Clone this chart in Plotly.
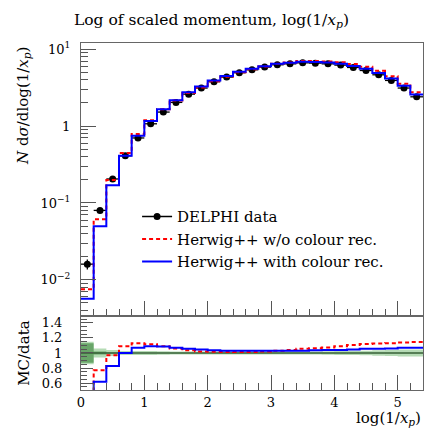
import plotly.graph_objects as go

# ---------------- data ----------------
bin_edges = [0.0, 0.2, 0.4, 0.6, 0.8, 1.0, 1.2, 1.4, 1.6, 1.8, 2.0, 2.2, 2.4, 2.6,
             2.8, 3.0, 3.2, 3.4, 3.6, 3.8, 4.0, 4.2, 4.4, 4.6, 4.8, 5.0, 5.2, 5.4]
bin_centers = [0.1, 0.3, 0.5, 0.7, 0.9, 1.1, 1.3, 1.5, 1.7, 1.9, 2.1, 2.3, 2.5, 2.7,
               2.9, 3.1, 3.3, 3.5, 3.7, 3.9, 4.1, 4.3, 4.5, 4.7, 4.9, 5.1, 5.3]
bin_halfwidth = [0.1] * 27

delphi = [0.016, 0.080, 0.205, 0.41, 0.70, 1.07, 1.52, 2.03, 2.60, 3.12, 3.77, 4.33,
          4.93, 5.39, 5.84, 6.26, 6.44, 6.64, 6.58, 6.44, 6.20, 5.78, 5.28, 4.64,
          3.92, 3.12, 2.40]
delphi_tot_relerr = [0.15, 0.06, 0.04, 0.025, 0.025, 0.025, 0.022, 0.02, 0.02, 0.02,
                     0.02, 0.02, 0.02, 0.02, 0.02, 0.02, 0.02, 0.02, 0.02, 0.022,
                     0.025, 0.028, 0.03, 0.035, 0.04, 0.045, 0.045]
delphi_stat_relerr = [0.13, 0.02, 0.01, 0.008, 0.008, 0.008, 0.008, 0.008, 0.008,
                      0.008, 0.008, 0.008, 0.008, 0.008, 0.008, 0.008, 0.008, 0.008,
                      0.008, 0.008, 0.008, 0.008, 0.008, 0.008, 0.008, 0.008, 0.008]

herwig_no_cr = [0.00757, 0.0616, 0.199, 0.447, 0.791, 1.193, 1.657, 2.152, 2.691,
                3.182, 3.827, 4.391, 4.999, 5.465, 5.957, 6.448, 6.698, 7.005, 7.001,
                6.910, 6.758, 6.387, 5.903, 5.220, 4.430, 3.557, 2.748]
herwig_cr = [0.00566, 0.0496, 0.170, 0.410, 0.749, 1.166, 1.649, 2.172, 2.743, 3.260,
             3.906, 4.460, 5.068, 5.541, 6.015, 6.448, 6.633, 6.839, 6.810, 6.698,
             6.448, 6.040, 5.570, 4.895, 4.155, 3.332, 2.568]

y_tickvals = [0.01, 0.1, 1, 10]
y_ticktext = ["10<sup>\u22122</sup>", "10<sup>\u22121</sup>", "1", "10<sup>1</sup>"]
y_minorvals = [0.004, 0.005, 0.006, 0.007, 0.008, 0.009,
               0.02, 0.03, 0.04, 0.05, 0.06, 0.07, 0.08, 0.09,
               0.2, 0.3, 0.4, 0.5, 0.6, 0.7, 0.8, 0.9,
               2, 3, 4, 5, 6, 7, 8, 9]

# ---------------- styling ----------------
FONT = "DejaVu Serif"
RED = "#ff0000"
BLUE = "#0000ff"
FRAME = "#666666"
TICK = "#555555"


def step(vals):
    return vals + [vals[-1]]


ratio_no_cr = [m / d for m, d in zip(herwig_no_cr, delphi)]
ratio_cr = [m / d for m, d in zip(herwig_cr, delphi)]

fig = go.Figure()

# ---- ratio panel: data error bands ----
for relerr, col in [(delphi_tot_relerr, "rgba(70,165,70,0.40)"),
                    (delphi_stat_relerr, "rgba(40,120,40,0.55)")]:
    fig.add_trace(go.Scatter(x=bin_edges, y=step([1 - e for e in relerr]),
                             mode="lines", line=dict(width=0, shape="hv"),
                             xaxis="x2", yaxis="y2", showlegend=False,
                             hoverinfo="skip"))
    fig.add_trace(go.Scatter(x=bin_edges, y=step([1 + e for e in relerr]),
                             mode="lines", line=dict(width=0, shape="hv"),
                             fill="tonexty", fillcolor=col,
                             xaxis="x2", yaxis="y2", showlegend=False,
                             hoverinfo="skip"))
fig.add_trace(go.Scatter(x=bin_edges, y=step([d / d for d in delphi]), mode="lines",
                         line=dict(width=1.2, color="#1f3f1f", shape="hv"),
                         xaxis="x2", yaxis="y2", showlegend=False))

# ---- ratio panel: MC / data ----
fig.add_trace(go.Scatter(x=bin_edges, y=step(ratio_no_cr), mode="lines",
                         line=dict(width=2, color=RED, dash="4px,3px", shape="hv"),
                         xaxis="x2", yaxis="y2", showlegend=False))
fig.add_trace(go.Scatter(x=bin_edges, y=step(ratio_cr), mode="lines",
                         line=dict(width=2, color=BLUE, shape="hv"),
                         xaxis="x2", yaxis="y2", showlegend=False))

# ---- main panel: data ----
fig.add_trace(go.Scatter(
    x=bin_centers, y=delphi, mode="markers",
    marker=dict(color="black", size=7),
    error_x=dict(type="data", array=bin_halfwidth, width=0, thickness=1.3, color="black"),
    error_y=dict(type="data", array=[d * e for d, e in zip(delphi, delphi_tot_relerr)],
                 width=0, thickness=1.3, color="black"),
    showlegend=False, xaxis="x", yaxis="y"))

# ---- main panel: MC ----
fig.add_trace(go.Scatter(x=bin_edges, y=step(herwig_no_cr), mode="lines",
                         name="Herwig++ w/o colour rec.", legendrank=2, legendgroup="g2",
                         line=dict(width=2, color=RED, dash="4px,3px", shape="hv"),
                         xaxis="x", yaxis="y"))
fig.add_trace(go.Scatter(x=bin_edges, y=step(herwig_cr), mode="lines",
                         name="Herwig++ with colour rec.", legendrank=3, legendgroup="g3",
                         line=dict(width=2, color=BLUE, shape="hv"),
                         xaxis="x", yaxis="y"))
# legend entry for the data (line + marker)
fig.add_trace(go.Scatter(x=[None], y=[None], mode="lines+markers", name="DELPHI data",
                         legendrank=1, legendgroup="g1",
                         line=dict(width=1.5, color="black"),
                         marker=dict(color="black", size=7),
                         xaxis="x", yaxis="y"))

axis_common = dict(showline=True, linecolor=FRAME, linewidth=1, mirror=True,
                   ticks="inside", tickcolor=TICK, showgrid=False, zeroline=False,
                   tickfont=dict(family=FONT, size=13, color="black"))

fig.update_layout(
    width=436, height=432,
    margin=dict(l=73, r=21, t=35, b=50),
    paper_bgcolor="white", plot_bgcolor="white",
    font=dict(family=FONT, color="black"),
    xaxis=dict(domain=[0, 1], anchor="y", range=[0, 5.4], tick0=0, dtick=1,
               ticklen=15, showticklabels=False, matches="x2",
               minor=dict(dtick=0.2, ticklen=7, ticks="inside", tickcolor=TICK),
               **axis_common),
    yaxis=dict(domain=[0.2133, 1], anchor="x", type="log", range=[-2.47, 1.08],
               tickmode="array", tickvals=y_tickvals, ticktext=y_ticktext, ticklen=15,
               ticklabelstandoff=7,
               minor=dict(tickmode="array", tickvals=y_minorvals, ticklen=7,
                          ticks="inside", tickcolor=TICK),
               **axis_common),
    xaxis2=dict(domain=[0, 1], anchor="y2", range=[0, 5.4], tick0=0, dtick=1,
                ticklen=15,
                minor=dict(dtick=0.2, ticklen=7, ticks="inside", tickcolor=TICK),
                **axis_common),
    yaxis2=dict(domain=[0, 0.2133], anchor="x2", range=[0.51, 1.49], tick0=0, dtick=0.2,
                ticklen=12, ticklabelstandoff=15,
                minor=dict(dtick=0.05, ticklen=6, ticks="inside", tickcolor=TICK),
                **axis_common),
    legend=dict(x=0.164, y=0.547, xanchor="left", yanchor="top", traceorder="normal",
                bgcolor="rgba(0,0,0,0)", font=dict(family=FONT, size=15),
                itemwidth=30, tracegroupgap=2),
    annotations=[
        dict(text="Log of scaled momentum, log(1/<i>x</i><sub><i>p</i></sub>)",
             xref="paper", yref="paper", x=-0.027, y=1.062, xanchor="left",
             yanchor="middle", showarrow=False, font=dict(family=FONT, size=15.5)),
        dict(text="<i>N</i> d<i>\u03c3</i>/dlog(1/<i>x</i><sub><i>p</i></sub>)",
             xref="paper", yref="paper", x=-0.17, y=0.994, xanchor="center",
             yanchor="top", textangle=-90, showarrow=False,
             font=dict(family=FONT, size=15)),
        dict(text="MC/data", xref="paper", yref="paper", x=-0.165, y=0.106,
             xanchor="center", yanchor="middle", textangle=-90, showarrow=False,
             font=dict(family=FONT, size=15)),
        dict(text="log(1/<i>x</i><sub><i>p</i></sub>)", xref="paper", yref="paper",
             x=1.0, y=-0.082, xanchor="right", yanchor="middle", showarrow=False,
             font=dict(family=FONT, size=15)),
    ],
)

fig.write_html("out.html")
